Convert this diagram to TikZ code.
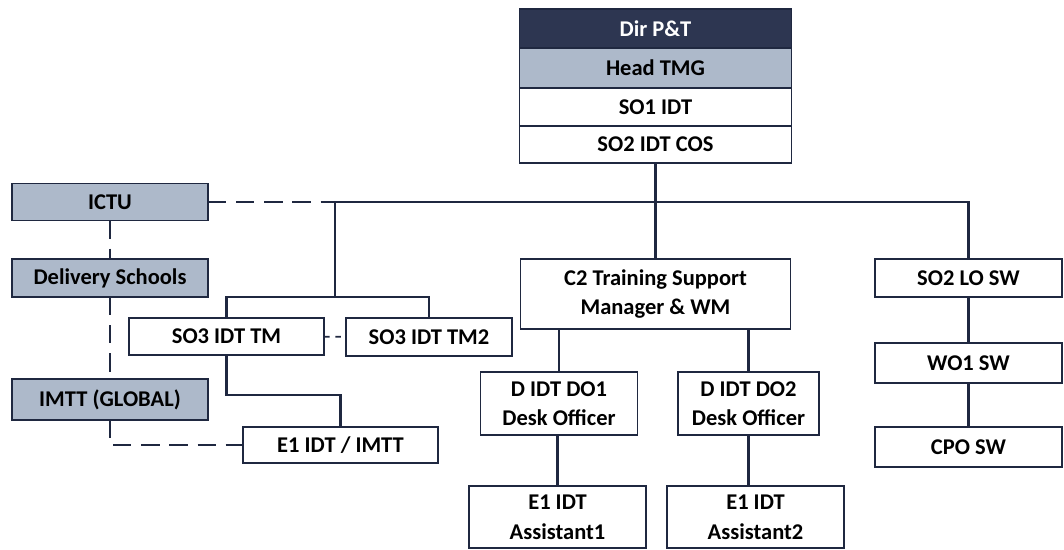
\documentclass[tikz,border=0pt]{standalone}
\usepackage{fontspec}
\setmainfont{Carlito}
\definecolor{navy}{HTML}{2D3651}
\definecolor{steel}{HTML}{ADB9CA}
\definecolor{linecol}{HTML}{1F2840}

\begin{document}
\begin{tikzpicture}[
    x=0.025cm, y=-0.025cm,
    postnode/.style={rectangle, draw=linecol, line width=1.1pt, fill=white, inner sep=0pt, outer sep=0pt, align=center, font=\fontsize{16}{21}\selectfont\bfseries},
    headnode/.style={postnode, fill=navy, text=white},
    unitnode/.style={postnode, fill=steel},
    solidline/.style={draw=linecol, line width=1.5pt},
    dashline/.style={draw=linecol, line width=1.5pt, dash pattern=on 13pt off 7pt},
    shortdash/.style={draw=linecol, line width=1.2pt, dash pattern=on 4pt off 4pt}
    ]
  \useasboundingbox (0,0) rectangle (1064,549);
  % nodes
  \node[headnode, minimum width=6.8cm, minimum height=0.975cm] (Dir PT) at (655.5,28.5) {Dir P\&T};
  \node[unitnode, minimum width=6.8cm, minimum height=1cm] (Head TMG) at (655.5,68) {Head TMG};
  \node[postnode, minimum width=6.8cm, minimum height=0.95cm] (SO1 IDT) at (655.5,107) {SO1 IDT};
  \node[postnode, minimum width=6.8cm, minimum height=0.925cm] (SO2 IDT COS) at (655.5,144.5) {SO2 IDT COS};
  \node[unitnode, minimum width=4.9cm, minimum height=0.925cm] (ICTU) at (110,202) {ICTU};
  \node[unitnode, minimum width=4.9cm, minimum height=0.95cm] (Delivery Schools) at (110,278) {Delivery Schools};
  \node[unitnode, minimum width=4.9cm, minimum height=1.025cm] (IMTT) at (110,399.5) {IMTT (GLOBAL)};
  \node[postnode, minimum width=4.875cm, minimum height=0.925cm] (SO3 IDT TM) at (226.5,336.5) {SO3 IDT TM};
  \node[postnode, minimum width=4.15cm, minimum height=0.95cm] (SO3 IDT TM2) at (429,337) {SO3 IDT TM2};
  \node[postnode, minimum width=4.875cm, minimum height=0.9cm] (E1 IDT IMTT) at (340.5,445) {E1 IDT / IMTT};
  \node[postnode, minimum width=6.75cm, minimum height=1.75cm] (C2) at (655.5,294) {C2 Training Support\\Manager \& WM};
  \node[postnode, minimum width=3.925cm, minimum height=1.575cm] (D IDT DO1) at (559,403.5) {D IDT DO1\\Desk Officer};
  \node[postnode, minimum width=3.525cm, minimum height=1.575cm] (D IDT DO2) at (748.5,403.5) {D IDT DO2\\Desk Officer};
  \node[postnode, minimum width=4.425cm, minimum height=1.55cm] (E1 IDT A1) at (557.5,517) {E1 IDT\\Assistant1};
  \node[postnode, minimum width=4.425cm, minimum height=1.55cm] (E1 IDT A2) at (755.5,517) {E1 IDT\\Assistant2};
  \node[postnode, minimum width=4.675cm, minimum height=0.95cm] (SO2 LO SW) at (968.5,278) {SO2 LO SW};
  \node[postnode, minimum width=4.675cm, minimum height=1cm] (WO1 SW) at (968.5,363) {WO1 SW};
  \node[postnode, minimum width=4.675cm, minimum height=1cm] (CPO SW) at (968.5,447) {CPO SW};
  \coordinate (jA) at (335,202);
  \coordinate (jB) at (335,297);
  \coordinate (jC) at (340.5,395);
  % lines
  \draw[solidline] (SO2 IDT COS.south) -- (C2.north);
  \draw[solidline] (jA) -| (SO2 LO SW.north);
  \draw[solidline] (jA) -- (jB);
  \draw[solidline] (jB) -| (SO3 IDT TM.north);
  \draw[solidline] (jB) -| (SO3 IDT TM2.north);
  \draw[solidline] (SO3 IDT TM.south) |- (jC) -- (E1 IDT IMTT.north);
  \draw[solidline] (D IDT DO1.north |- C2.south) -- (D IDT DO1.north);
  \draw[solidline] (D IDT DO2.north |- C2.south) -- (D IDT DO2.north);
  \draw[solidline] (E1 IDT A1.north |- D IDT DO1.south) -- (E1 IDT A1.north);
  \draw[solidline] (D IDT DO2.south) -- (D IDT DO2.south |- E1 IDT A2.north);
  \draw[solidline] (SO2 LO SW) -- (WO1 SW);
  \draw[solidline] (WO1 SW) -- (CPO SW);
  % dashed links
  \draw[dashline] (ICTU.east) -- (jA);
  \draw[dashline] (ICTU) -- (Delivery Schools);
  \draw[dashline] (Delivery Schools) -- (IMTT);
  \draw[dashline] (IMTT.south) |- (E1 IDT IMTT.west);
  \draw[shortdash] (SO3 IDT TM) -- (SO3 IDT TM2);
\end{tikzpicture}
\end{document}
